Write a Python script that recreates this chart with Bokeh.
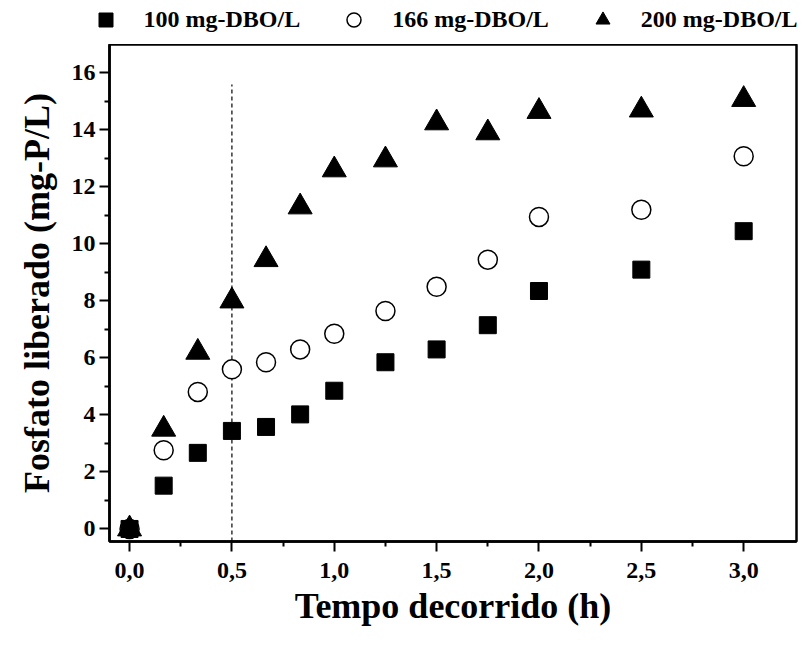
from bokeh.plotting import figure
from bokeh.layouts import column
from bokeh.models import Legend, LegendItem, FixedTicker, Range1d
from bokeh.embed import file_html
from bokeh.resources import INLINE

# ---- data ----
time_h = [0, 1/6, 2/6, 0.5, 4/6, 5/6, 1.0, 1.25, 1.5, 1.75, 2.0, 2.5, 3.0]
dbo_100 = [0, 1.52, 2.67, 3.44, 3.58, 4.02, 4.85, 5.85, 6.3, 7.15, 8.35, 9.1, 10.45]
dbo_166 = [0, 2.76, 4.81, 5.6, 5.85, 6.3, 6.85, 7.65, 8.5, 9.45, 10.95, 11.2, 13.08]
dbo_200 = [0, 3.5, 6.2, 8.0, 9.45, 11.3, 12.6, 12.95, 14.25, 13.9, 14.65, 14.7, 15.07]
series_labels = ["100 mg-DBO/L", "166 mg-DBO/L", "200 mg-DBO/L"]

marker_time = [0.5]
marker_y0 = [-0.44]
marker_y1 = [15.6]

x_ticks = [0.0, 0.5, 1.0, 1.5, 2.0, 2.5, 3.0]
x_tick_labels = ["0,0", "0,5", "1,0", "1,5", "2,0", "2,5", "3,0"]
x_minor = [0.25, 0.75, 1.25, 1.75, 2.25, 2.75]
y_ticks = [0, 2, 4, 6, 8, 10, 12, 14, 16]
y_minor = [1, 3, 5, 7, 9, 11, 13, 15]

FONT = "Liberation Serif"

# styles for the three series (square, open circle, triangle)
styles = [dict(marker="square", size=17, fill_color="black", line_color="black", line_width=1),
          dict(marker="circle", size=19, fill_color="white", line_color="black", line_width=1.5),
          dict(marker="triangle", size=24, fill_color="black", line_color="black", line_width=1)]
series = [dbo_100, dbo_166, dbo_200]

# ---------- main plot ----------
p = figure(width=802, height=589,
           x_range=Range1d(-0.098, 3.258), y_range=Range1d(-0.44, 17.0),
           output_backend="svg", toolbar_location=None,
           min_border_left=109, min_border_right=6, min_border_top=0, min_border_bottom=92,
           background_fill_color="white", border_fill_color="white")

p.segment(x0=marker_time, y0=marker_y0, x1=marker_time, y1=marker_y1,
          line_color="black", line_width=1.2, line_dash="4 3")

p.scatter(time_h, dbo_166, **styles[1])
p.scatter(time_h, dbo_100, **styles[0])
p.scatter(time_h, dbo_200, **styles[2])

p.xgrid.visible = False
p.ygrid.visible = False
p.outline_line_color = "black"
p.outline_line_width = 2.5

p.xaxis.ticker = FixedTicker(ticks=x_ticks, minor_ticks=x_minor)
p.xaxis.major_label_overrides = {t: l for t, l in zip(x_ticks, x_tick_labels)}
p.yaxis.ticker = FixedTicker(ticks=y_ticks, minor_ticks=y_minor)

for ax in (p.xaxis[0], p.yaxis[0]):
    ax.axis_line_color = "black"
    ax.axis_line_width = 2.5
    ax.major_tick_in = 0
    ax.major_tick_out = 10
    ax.minor_tick_in = 0
    ax.minor_tick_out = 5
    ax.major_tick_line_width = 2
    ax.minor_tick_line_width = 2
    ax.major_tick_line_color = "black"
    ax.minor_tick_line_color = "black"
    ax.major_label_text_font = FONT
    ax.major_label_text_font_style = "bold"
    ax.major_label_text_font_size = "24px"
    ax.major_label_text_color = "black"
    ax.axis_label_text_font = FONT
    ax.axis_label_text_font_style = "bold"
    ax.axis_label_text_font_size = "36px"
    ax.axis_label_text_color = "black"

p.xaxis.axis_label = "Tempo decorrido (h)"
p.yaxis.axis_label = "Fosfato liberado (mg-P/L)"
p.xaxis.major_label_standoff = 11
p.yaxis.major_label_standoff = 4
p.xaxis.axis_label_standoff = 5
p.yaxis.axis_label_standoff = 12

# ---------- legend strip above the plot ----------
lg = figure(width=806, height=44, x_range=Range1d(0, 1), y_range=Range1d(-100, -99),
            output_backend="svg", toolbar_location=None,
            x_axis_type=None, y_axis_type=None, min_border=0,
            outline_line_color=None, background_fill_color="white", border_fill_color="white")
lg.frame_align = False
lg.xgrid.visible = False
lg.ygrid.visible = False
leg_renderers = [lg.scatter(time_h, s, **st) for s, st in zip(series, styles)]

legend = Legend(items=[LegendItem(label=lab, renderers=[r]) for lab, r in zip(series_labels, leg_renderers)],
                orientation="horizontal", location=(87.5, 7.5),
                margin=0, padding=0, border_line_color=None, background_fill_alpha=0,
                glyph_width=35, glyph_height=35, label_standoff=21, spacing=36,
                label_text_font=FONT, label_text_font_style="bold",
                label_text_font_size="24px", label_text_color="black")
lg.add_layout(legend, "center")

layout = column(lg, p, spacing=0)
open("out.html", "w").write(file_html(layout, INLINE))
